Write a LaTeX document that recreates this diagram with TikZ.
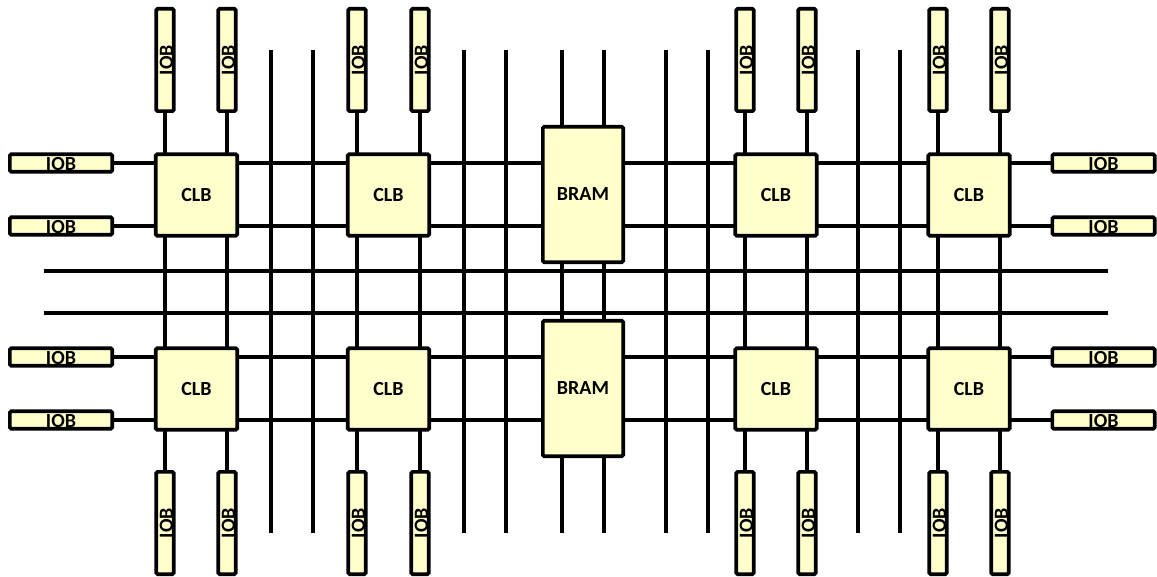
\documentclass[tikz,border=0pt]{standalone}
\usepackage{fontspec}
\setmainfont{Carlito}
\usepackage{tikz}
\usetikzlibrary{backgrounds}
\definecolor{blockfill}{HTML}{FFFFCC}

\begin{document}
\begin{tikzpicture}[
  x=0.75pt, y=-0.75pt,
  block/.style={draw, line width=2.8pt, rounded corners=1pt, fill=blockfill,
                inner sep=0pt, font=\bfseries\fontsize{15}{15}\selectfont},
  clb/.style={block, minimum width=61pt, minimum height=61pt},
  bram/.style={block, minimum width=60.2pt, minimum height=101.5pt},
  iob/.style={block, minimum width=76.7pt, minimum height=13pt,
              text height=11.9pt, text depth=0pt},
  wire/.style={line width=2.4pt}
]
\useasboundingbox (0,0) rectangle (1157,577);
% logic blocks
\foreach \r/\y in {1/195,2/389}
  \foreach \c/\x in {1/196.5,2/388.5,4/776,5/969}
    \node[clb] (clb\r\c) at (\x,\y) {CLB};
\node[bram] (bram1) at (583,194.5) {BRAM};
\node[bram] (bram2) at (583,388.5) {BRAM};
% io blocks
\foreach \x [count=\i] in {165,227,357,420,745,807,938,1000} {
  \node[iob, rotate=90] (iobt\i) at (\x,60) {IOB};
  \node[iob, rotate=90] (iobb\i) at (\x,523) {IOB};
}
\foreach \y [count=\i] in {163,226,357,420} {
  \node[iob] (iobl\i) at (61,\y) {IOB};
  \node[iob] (iobr\i) at (1103.5,\y) {IOB};
}
% routing
\begin{pgfonlayer}{background}
\foreach \i in {1,...,8} \draw[wire] (iobt\i) -- (iobb\i);
\foreach \i in {1,...,4} \draw[wire] (iobl\i) -- (iobr\i);
\foreach \x [count=\i] in {271,313,464,506,562,604,666,708,858,900} {
  \coordinate (vt\i) at (\x,50);
  \coordinate (vb\i) at (\x,533);
  \draw[wire] (vt\i) -- (vb\i);
}
\foreach \y [count=\i] in {271,313} {
  \coordinate (hl\i) at (44,\y);
  \coordinate (hr\i) at (1108,\y);
  \draw[wire] (hl\i) -- (hr\i);
}
\end{pgfonlayer}
\end{tikzpicture}
\end{document}
